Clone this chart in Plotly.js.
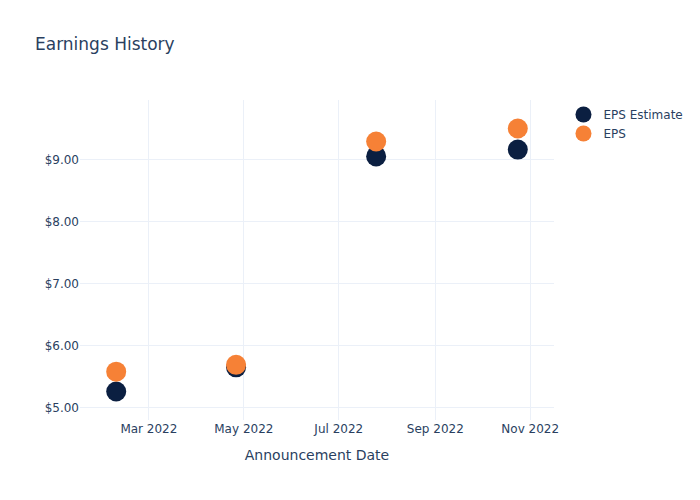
<!DOCTYPE html>
<html>
<head>
<meta charset="utf-8">
<script src="https://cdn.plot.ly/plotly-3.0.1.min.js"></script>
<style>html,body{margin:0;padding:0;}#chart{width:700px;height:500px;}</style>
</head>
<body>
<div id="chart"></div>
<script>
const dates = ["2022-02-08", "2022-04-26", "2022-07-25", "2022-10-24"];
const epsEstimate = [5.26, 5.65, 9.05, 9.16];
const epsActual = [5.58, 5.69, 9.29, 9.50];

const traces = [
  {x: dates, y: epsEstimate, mode: "markers", type: "scatter", name: "EPS Estimate",
   marker: {color: "#0b1f41", size: 20}},
  {x: dates, y: epsActual, mode: "markers", type: "scatter", name: "EPS",
   marker: {color: "#f68136", size: 20}}
];
const layout = {
  template: "plotly_white",
  width: 700, height: 500,
  title: {text: "Earnings History", x: 0.05},
  paper_bgcolor: "white", plot_bgcolor: "white",
  xaxis: {title: {text: "Announcement Date", standoff: 15}, gridcolor: "#EBF0F8", zeroline: false},
  yaxis: {tickprefix: "$", tickformat: ".2f", gridcolor: "#EBF0F8", zeroline: false},
  font: {color: "#2a3f5f", family: "DejaVu Sans, Verdana, sans-serif"}
};
Plotly.newPlot("chart", traces, layout, {displayModeBar: false});
</script>
</body>
</html>
